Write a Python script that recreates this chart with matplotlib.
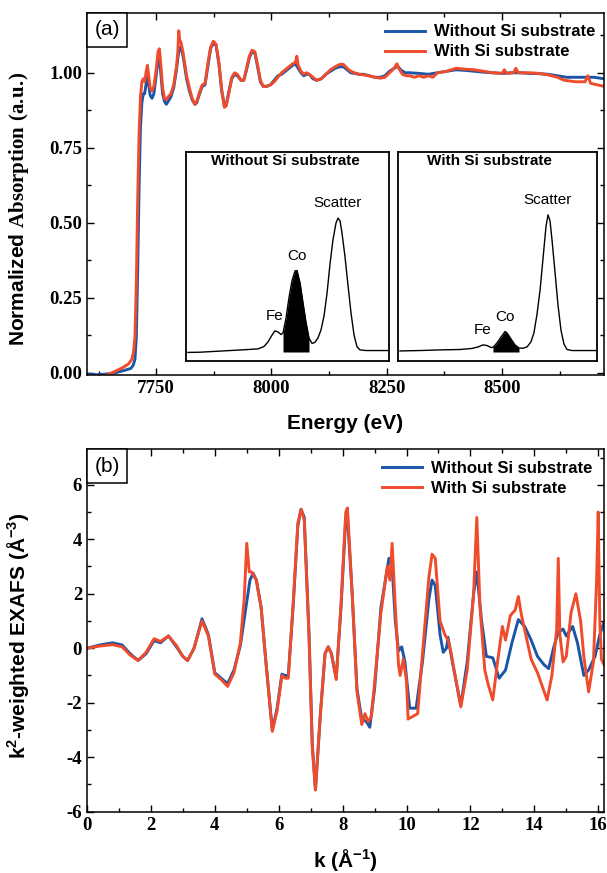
import numpy as np
import matplotlib.pyplot as plt
from matplotlib.ticker import MultipleLocator
from matplotlib.offsetbox import AnchoredText

plt.rcParams['font.family'] = 'Liberation Sans'
plt.rcParams['font.weight'] = 'bold'
plt.rcParams['axes.labelweight'] = 'bold'
plt.rcParams['axes.unicode_minus'] = False
plt.rcParams['mathtext.fontset'] = 'custom'
plt.rcParams['mathtext.rm'] = 'Liberation Sans:bold'
plt.rcParams['mathtext.bf'] = 'Liberation Serif:bold'
plt.rcParams['mathtext.it'] = 'Liberation Sans:bold:italic'

BLUE = '#1b55a8'
RED = '#f04b2b'
LAB_NO = 'Without Si substrate'
LAB_SI = 'With Si substrate'

# ---- XANES, normalized absorption vs energy (eV)
e_no = [7600, 7620, 7640, 7660, 7680, 7695, 7700, 7704, 7707, 7710, 7713, 7716, 7719, 7722,
        7725, 7728, 7731, 7734, 7737, 7741, 7745, 7750, 7754, 7757, 7760, 7764, 7768, 7772,
        7776, 7782, 7788, 7794, 7798, 7802, 7806, 7810, 7816, 7822, 7828, 7834, 7838, 7844,
        7850, 7856, 7862, 7868, 7874, 7880, 7886, 7892, 7898, 7902, 7908, 7914, 7920, 7926,
        7934, 7940, 7946, 7952, 7958, 7964, 7970, 7976, 7982, 7990, 7998, 8006, 8014, 8022,
        8030, 8038, 8046, 8052, 8058, 8064, 8070, 8076, 8082, 8090, 8098, 8108, 8118, 8128,
        8138, 8148, 8156, 8164, 8172, 8180, 8190, 8200, 8212, 8224, 8236, 8246, 8256, 8266,
        8274, 8280, 8290, 8300, 8320, 8340, 8360, 8380, 8400, 8420, 8440, 8460, 8480, 8500,
        8520, 8540, 8560, 8580, 8600, 8620, 8640, 8660, 8680, 8700, 8721]
mu_no = [-0.003, -0.006, -0.004, 0.0, 0.008, 0.015, 0.025, 0.045, 0.12, 0.35, 0.62, 0.82, 0.90, 0.93,
         0.93, 0.96, 0.985, 0.96, 0.925, 0.915, 0.93, 0.99, 1.045, 1.05, 1.0, 0.93, 0.905, 0.895,
         0.905, 0.92, 0.95, 1.01, 1.06, 1.085, 1.075, 1.04, 0.98, 0.94, 0.91, 0.895, 0.9, 0.93,
         0.955, 0.96, 1.02, 1.08, 1.1, 1.09, 1.03, 0.94, 0.89, 0.895, 0.94, 0.98, 0.995, 0.99,
         0.975, 0.975, 1.01, 1.05, 1.07, 1.065, 1.02, 0.97, 0.955, 0.955, 0.96, 0.975, 0.99, 0.995,
         1.005, 1.015, 1.025, 1.03, 1.015, 1.0, 0.99, 0.995, 0.995, 0.98, 0.975, 0.98, 0.995, 1.005,
         1.015, 1.02, 1.02, 1.01, 1.0, 0.998, 0.995, 0.995, 0.99, 0.985, 0.985, 0.99, 1.005, 1.015,
         1.022, 1.01, 1.0, 1.0, 0.998, 0.995, 1.0, 1.005, 1.01, 1.008, 1.005, 1.002, 1.0, 0.998,
         1.0, 1.0, 0.998, 0.997, 0.995, 0.99, 0.985, 0.985, 0.985, 0.985, 0.98]

e_si = [7600, 7620, 7640, 7650, 7660, 7670, 7680, 7690, 7697, 7701, 7704, 7707, 7710, 7713,
        7716, 7719, 7722, 7725, 7728, 7731, 7734, 7737, 7741, 7745, 7750, 7754, 7757, 7760,
        7764, 7768, 7772, 7776, 7782, 7788, 7794, 7797, 7799, 7801, 7804, 7808, 7812, 7816,
        7822, 7828, 7834, 7838, 7844, 7850, 7856, 7862, 7868, 7874, 7880, 7886, 7892, 7898,
        7902, 7908, 7914, 7920, 7926, 7934, 7940, 7946, 7952, 7958, 7964, 7970, 7976, 7982,
        7990, 7998, 8006, 8014, 8022, 8030, 8038, 8046, 8052, 8055, 8058, 8064, 8070, 8076,
        8082, 8090, 8098, 8108, 8118, 8128, 8138, 8148, 8156, 8164, 8172, 8180, 8190, 8200,
        8212, 8224, 8236, 8246, 8256, 8266, 8272, 8276, 8284, 8292, 8300, 8310, 8320, 8330,
        8340, 8350, 8360, 8380, 8400, 8420, 8440, 8460, 8480, 8500, 8505, 8510, 8525, 8530,
        8535, 8560, 8580, 8600, 8620, 8635, 8660, 8680, 8686, 8692, 8700, 8721]
mu_si = [-0.01, -0.012, -0.008, -0.003, 0.005, 0.012, 0.02, 0.03, 0.045, 0.07, 0.12, 0.3, 0.58, 0.8,
         0.92, 0.97, 0.98, 0.97, 1.0, 1.025, 0.99, 0.95, 0.94, 0.955, 1.01, 1.07, 1.08, 1.03,
         0.95, 0.915, 0.91, 0.92, 0.93, 0.96, 1.02, 1.07, 1.14, 1.11, 1.1, 1.07, 1.03, 0.99,
         0.95, 0.915, 0.895, 0.905, 0.935, 0.96, 0.965, 1.03, 1.085, 1.105, 1.095, 1.035, 0.945, 0.885,
         0.89, 0.935, 0.985, 1.0, 0.995, 0.975, 0.975, 1.015, 1.055, 1.075, 1.07, 1.025, 0.975, 0.955,
         0.955, 0.96, 0.97, 0.985, 1.0, 1.01, 1.02, 1.03, 1.035, 1.055, 1.025, 1.005, 0.995, 1.0,
         0.995, 0.985, 0.975, 0.98, 0.995, 1.01, 1.02, 1.028, 1.028, 1.015, 1.005, 1.0, 0.995, 0.993,
         0.99, 0.985, 0.982, 0.985, 1.0, 1.015, 1.03, 1.015, 0.995, 0.99, 0.99, 0.985, 0.99, 0.985,
         0.99, 0.985, 1.0, 1.005, 1.015, 1.012, 1.01, 1.005, 1.0, 0.998, 1.01, 0.998, 1.0, 1.015,
         1.0, 1.0, 0.998, 0.993, 0.985, 0.975, 0.97, 0.97, 0.99, 0.965, 0.962, 0.955]

# ---- XRF spectra shown in the insets (arb. channel, arb. counts)
ch_no = [1.0, 6.9, 14.3, 21.7, 29.1, 35.5, 38.4, 40.4, 42.4, 43.8, 45.3, 46.8, 47.8, 49.3, 50.7,
         52.2, 53.7, 54.7, 56.2, 57.6, 59.1, 60.6, 62.1, 63.5, 65.0, 66.5, 68.0, 69.5, 70.9, 72.4,
         73.9, 74.9, 75.9, 76.8, 78.3, 79.8, 81.3, 82.8, 84.2, 85.7, 88.7, 99.5]
cnt_no = [4.1, 4.2, 4.6, 5.0, 5.4, 5.8, 6.9, 9.1, 12.4, 14.4, 13.9, 12.7, 13.4, 20.6, 30.1,
          38.3, 43.1, 43.3, 37.3, 28.2, 18.7, 11.0, 8.4, 8.9, 11.0, 14.8, 21.5, 32.5, 45.9, 57.9,
          66.0, 68.4, 67.0, 61.7, 50.2, 36.4, 23.0, 12.4, 6.9, 5.3, 5.0, 5.0]
ch_si = [1.0, 11.1, 21.1, 31.2, 37.2, 40.2, 42.7, 44.7, 46.7, 47.7, 49.7, 51.8, 53.8, 54.8, 56.8,
         58.8, 60.8, 62.8, 64.8, 66.8, 68.3, 69.8, 71.4, 72.9, 74.4, 75.4, 76.4, 77.4, 78.9, 80.4,
         81.9, 83.4, 84.9, 87.4, 99.5]
cnt_si = [4.8, 5.0, 5.3, 5.5, 6.0, 6.7, 7.7, 7.4, 6.5, 6.5, 8.6, 11.5, 14.1, 13.4, 10.5,
          7.7, 6.2, 6.1, 6.7, 9.1, 13.4, 22.0, 34.0, 49.3, 64.6, 69.9, 67.0, 57.9, 42.6, 26.8,
          14.8, 8.1, 5.5, 5.0, 5.0]
co_win_no = (47.8, 60.6)
co_win_si = (47.7, 60.8)
base_no = 4.3
base_si = 4.3
peaks_no = [('Fe', 43.8), ('Co', 54.7), ('Scatter', 74.9)]
peaks_si = [('Fe', 42.7), ('Co', 53.8), ('Scatter', 75.4)]

# ---- k^2-weighted EXAFS
k_no = [0, 0.4, 0.8, 1.1, 1.35, 1.6, 1.85, 2.1, 2.3, 2.55, 2.8, 3.0, 3.15, 3.35, 3.6, 3.8, 4.0,
        4.2, 4.4, 4.6, 4.8, 4.95, 5.1, 5.2, 5.3, 5.45, 5.6, 5.8, 5.95, 6.1, 6.2, 6.3, 6.45, 6.6,
        6.7, 6.8, 6.95, 7.05, 7.15, 7.3, 7.45, 7.55, 7.65, 7.8, 7.95, 8.1, 8.15, 8.3, 8.45, 8.6,
        8.75, 8.85, 9.0, 9.2, 9.45, 9.55, 9.65, 9.75, 9.85, 9.95, 10.1, 10.3, 10.5, 10.7, 10.8,
        10.9, 11.05, 11.15, 11.25, 11.3, 11.45, 11.7, 11.9, 12.1, 12.2, 12.35, 12.5, 12.7, 12.9,
        13.1, 13.3, 13.5, 13.7, 13.9, 14.1, 14.3, 14.45, 14.6, 14.75, 14.9, 15.0, 15.2, 15.35,
        15.55, 15.7, 15.9, 16.05, 16.18]
chi_no = [0, 0.12, 0.2, 0.12, -0.2, -0.45, -0.2, 0.28, 0.2, 0.45, 0.05, -0.3, -0.45, 0.0, 1.08,
          0.5, -0.9, -1.1, -1.3, -0.8, 0.1, 1.3, 2.5, 2.75, 2.5, 1.5, -0.5, -3.0, -2.2, -0.95, -1.0,
          -1.0, 1.5, 4.5, 5.1, 4.8, 0.5, -3.5, -5.2, -2.5, -0.2, 0.05, -0.2, -1.1, 1.5, 4.8, 4.9,
          2.0, -1.5, -2.6, -2.7, -2.9, -1.5, 1.5, 3.3, 3.0, 1.0, -0.1, 0.05, -0.5, -2.2, -2.2, -0.5,
          1.8, 2.5, 2.3, 0.5, -0.15, 0.0, 0.4, -0.6, -2.1, -0.5, 2.0, 2.8, 1.0, -0.3, -0.35, -1.1,
          -0.8, 0.2, 1.05, 0.8, 0.3, -0.3, -0.6, -0.75, 0.0, 0.6, 0.7, 0.45, 0.8, 0.2, -1.0, -0.8,
          -0.3, 0.5, 0.95]

k_si = [0, 0.4, 0.8, 1.1, 1.35, 1.6, 1.85, 2.1, 2.3, 2.55, 2.8, 3.0, 3.15, 3.35, 3.6, 3.8, 4.0,
        4.2, 4.4, 4.6, 4.8, 4.92, 5.0, 5.08, 5.15, 5.3, 5.45, 5.6, 5.8, 5.95, 6.1, 6.2, 6.3, 6.45,
        6.6, 6.7, 6.8, 6.95, 7.05, 7.15, 7.3, 7.45, 7.55, 7.65, 7.8, 7.95, 8.1, 8.15, 8.3, 8.45,
        8.6, 8.7, 8.8, 8.9, 9.0, 9.2, 9.4, 9.48, 9.55, 9.65, 9.75, 9.8, 9.9, 10.0, 10.05, 10.2,
        10.35, 10.5, 10.7, 10.8, 10.9, 11.05, 11.2, 11.3, 11.4, 11.55, 11.7, 11.9, 12.1, 12.2,
        12.3, 12.45, 12.55, 12.7, 12.85, 13.0, 13.1, 13.25, 13.4, 13.5, 13.6, 13.75, 13.9, 14.1,
        14.25, 14.4, 14.55, 14.7, 14.75, 14.8, 14.9, 15.0, 15.15, 15.3, 15.45, 15.55, 15.7,
        15.85, 15.95, 16.0, 16.05, 16.1, 16.18]
chi_si = [0, 0.08, 0.13, 0.05, -0.25, -0.45, -0.15, 0.35, 0.25, 0.45, 0.1, -0.3, -0.45, 0.0, 1.0,
          0.45, -0.95, -1.15, -1.4, -0.9, 0.2, 1.8, 3.85, 2.8, 2.8, 2.5, 1.5, -0.5, -3.05, -2.3,
          -1.0, -1.1, -1.1, 1.6, 4.6, 5.1, 4.7, 0.4, -3.6, -5.2, -2.5, -0.2, 0.05, -0.2, -1.15, 1.6,
          5.0, 5.15, 2.0, -1.6, -2.8, -2.4, -2.7, -2.5, -1.3, 1.3, 3.0, 2.5, 3.85, 1.5, -0.6, -1.0,
          -0.4, -1.2, -2.6, -2.5, -2.4, -0.2, 2.6, 3.45, 3.3, 1.0, 0.5, 0.3, -0.2, -1.2, -2.15, -0.8,
          2.0, 4.8, 1.5, -0.8, -1.3, -1.9, -0.5, 0.8, 0.3, 1.2, 1.4, 1.9, 1.2, 0.4, -0.4, -0.9,
          -1.4, -1.9, -1.0, 0.7, 3.3, 0.5, -0.5, -0.3, 1.3, 2.0, 1.0, -0.3, -1.6, -0.5, 2.5, 5.0,
          1.0, -0.4, -0.6]


def style_axes(ax, major_x, minor_x, major_y, minor_y):
    ax.xaxis.set_major_locator(MultipleLocator(major_x))
    ax.xaxis.set_minor_locator(MultipleLocator(minor_x))
    ax.yaxis.set_major_locator(MultipleLocator(major_y))
    ax.yaxis.set_minor_locator(MultipleLocator(minor_y))
    ax.tick_params(which='both', direction='in', top=True, right=True, width=1.0,
                   labelsize=13.5, labelfontfamily='Liberation Serif')
    ax.tick_params(which='major', length=5)
    ax.tick_params(which='minor', length=3)
    for s in ax.spines.values():
        s.set_linewidth(1.1)


def panel_tag(ax, tag):
    at = AnchoredText(tag, loc='upper left', borderpad=0, pad=0.36,
                      prop=dict(size=15, weight='normal'))
    at.patch.set_linewidth(1.1)
    ax.add_artist(at)


def xrf_inset(rect, ch, cnt, win, base, peaks, title, title_x):
    ax = fig.add_axes(rect)
    ch = np.array(ch)
    cnt = np.array(cnt)
    ax.plot(ch, cnt, color='black', lw=1.0)
    sel = (ch >= win[0]) & (ch <= win[1])
    ax.fill_between(ch[sel], base, cnt[sel], color='black', lw=0)
    for name, xp in peaks:
        yp = np.interp(xp, ch, cnt)
        ax.annotate(name, (xp, yp), xytext=(0, 10.5), textcoords='offset points',
                    ha='center', va='center', fontsize=11, fontweight='normal')
    ax.text(title_x, 0.99, title, transform=ax.transAxes, ha='center', va='top', fontsize=11)
    ax.set_xlim(0, 100)
    ax.set_ylim(0, 100)
    ax.set_xticks([])
    ax.set_yticks([])
    for s in ax.spines.values():
        s.set_linewidth(1.3)
    return ax


fig = plt.figure(figsize=(6.07, 8.73), dpi=100)

# (a) XANES
ax1 = fig.add_axes([0.1433, 0.5704, 0.8517, 0.415])
ax1.plot(e_no, mu_no, color=BLUE, lw=2.1, label=LAB_NO)
ax1.plot(e_si, mu_si, color=RED, lw=2.1, label=LAB_SI)
ax1.set_xlim(7600, 8721)
ax1.set_ylim(-0.007, 1.2)
style_axes(ax1, 250, 125, 0.25, 0.125)
ax1.yaxis.set_major_formatter(plt.FormatStrFormatter('%.2f'))
ax1.set_xlabel('Energy (eV)', fontsize=15)
ax1.set_ylabel(r'Normalized $\mathbf{Absorption\ (a.\!u.\!)}$', fontsize=15)
ax1.xaxis.set_label_coords(0.5, -0.108)
ax1.yaxis.set_label_coords(-0.108, 0.458)
ax1.legend(loc='upper right', frameon=False, fontsize=12, handlelength=2.4,
           handletextpad=0.55, labelspacing=0.3, borderaxespad=0.4, borderpad=0.3,
           bbox_to_anchor=(1.006, 1.0))
panel_tag(ax1, '(a)')

xrf_inset([0.3064, 0.5865, 0.3344, 0.2394], ch_no, cnt_no, co_win_no, base_no,
          peaks_no, LAB_NO, 0.488)
xrf_inset([0.6557, 0.5865, 0.3278, 0.2394], ch_si, cnt_si, co_win_si, base_si,
          peaks_si, LAB_SI, 0.462)

# (b) EXAFS
ax2 = fig.add_axes([0.1433, 0.0702, 0.8517, 0.4151])
ax2.plot(k_no, chi_no, color=BLUE, lw=2.1, label=LAB_NO)
ax2.plot(k_si, chi_si, color=RED, lw=2.1, label=LAB_SI)
ax2.set_xlim(0, 16.18)
ax2.set_ylim(-6, 7.3)
style_axes(ax2, 2, 1, 2, 1)
ax2.set_xlabel('k (Å$^{-1}$)', fontsize=15)
ax2.set_ylabel('k$^{2}$-weighted EXAFS (Å$^{-3}$)', fontsize=15)
ax2.xaxis.set_label_coords(0.5, -0.097)
ax2.yaxis.set_label_coords(-0.108, 0.485)
ax2.legend(loc='upper right', frameon=False, fontsize=12, handlelength=2.4,
           handletextpad=0.55, labelspacing=0.3, borderaxespad=0.4, borderpad=0.3,
           bbox_to_anchor=(1.0, 1.0))
panel_tag(ax2, '(b)')

fig.savefig('out.png', dpi=100)
